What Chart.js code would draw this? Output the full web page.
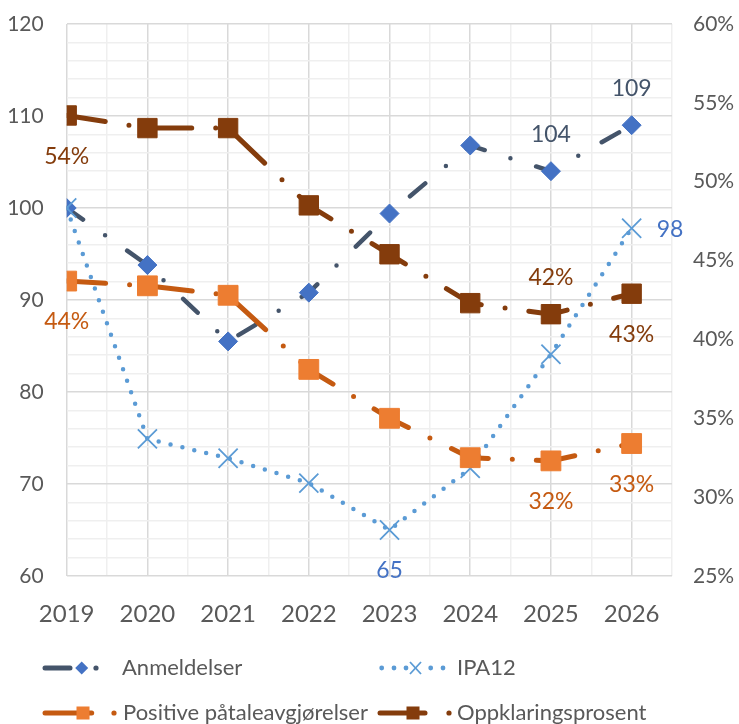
<!DOCTYPE html>
<html><head><meta charset="utf-8">
<script src="https://cdn.jsdelivr.net/npm/chart.js@4.4.1/dist/chart.umd.min.js"></script>
<style>
html,body{margin:0;padding:0;background:#fff;}
#wrap{position:relative;width:739px;height:724px;overflow:hidden;}
#c{position:absolute;left:0;top:0;}
.lt{position:absolute;font-family:Lato,sans-serif;font-size:22px;line-height:22px;color:#595959;white-space:nowrap;}
#icons{position:absolute;left:0;top:640px;}
</style></head><body>
<div id="wrap">
<canvas id="c" width="739" height="724"></canvas>
<svg id="icons" width="739" height="84"></svg>
<div class="lt" style="left:122px;top:656px">Anmeldelser</div>
<div class="lt" style="left:457px;top:656px">IPA12</div>
<div class="lt" style="left:123px;top:701px">Positive påtaleavgjørelser</div>
<div class="lt" style="left:457px;top:701px">Oppklaringsprosent</div>
</div>
<script>
// ---- data ----
const years = [2019, 2020, 2021, 2022, 2023, 2024, 2025, 2026];
const anmeldelser = [100, 93.8, 85.5, 90.8, 99.4, 106.8, 104, 109];
const ipa12 = [100, 74.9, 72.8, 70.1, 65, 71.7, 84.1, 97.8];
const positive = [43.7, 43.4, 42.8, 38.1, 35.0, 32.5, 32.3, 33.4];
const oppklaring = [54.2, 53.4, 53.4, 48.5, 45.4, 42.3, 41.6, 42.9];
const seriesNames = ['Anmeldelser', 'IPA12', 'Positive påtaleavgjørelser', 'Oppklaringsprosent'];
const leftTickLabels = [60, 70, 80, 90, 100, 110, 120];
const rightTickLabels = ['25%', '30%', '35%', '40%', '45%', '50%', '55%', '60%'];
// which points carry a value label: [seriesIndex, pointIndex, placement]
const labelledPoints = [
  [0, 6, 'above'], [0, 7, 'above'],
  [1, 4, 'below'], [1, 7, 'right'],
  [2, 0, 'below'], [2, 6, 'below'], [2, 7, 'below'],
  [3, 0, 'below'], [3, 6, 'above'], [3, 7, 'below']
];

const FONT = 'Lato, sans-serif';
const toPts = arr => arr.map((v, i) => ({x: years[i], y: v}));

const labelColors = ['#44546A', '#4472C4', '#C55A11', '#843C0C'];

const labelPlugin = {
  id: 'valueLabels',
  afterDatasetsDraw(chart) {
    const ctx = chart.ctx;
    ctx.save();
    ctx.font = '23px ' + FONT;
    ctx.textBaseline = 'middle';
    labelledPoints.forEach(([s, i, place]) => {
      const ds = chart.data.datasets[s];
      const el = chart.getDatasetMeta(s).data[i];
      const v = ds.data[i].y;
      const txt = Math.round(v) + (ds.yAxisID === 'y2' ? '%' : '');
      ctx.fillStyle = labelColors[s];
      let x = el.x, y = el.y;
      if (place === 'above') { ctx.textAlign = 'center'; y -= 37; }
      else if (place === 'below') { ctx.textAlign = 'center'; y += 41; }
      else { ctx.textAlign = 'left'; x += 25; y += 1; }
      ctx.fillText(txt, x, y);
    });
    ctx.restore();
  }
};

const noVPad = s => { s.paddingTop = 0; s.paddingBottom = 0; };

new Chart(document.getElementById('c'), {
  type: 'line',
  data: {
    datasets: [
      {
        label: seriesNames[0], data: toPts(anmeldelser), yAxisID: 'y', order: 3,
        borderColor: '#44546A', borderWidth: 4.5, borderDash: [20, 27, 0, 27], borderCapStyle: 'round',
        pointStyle: 'rectRot', pointRadius: 9.5, pointBackgroundColor: '#4472C4', pointBorderColor: '#4472C4', pointBorderWidth: 1,
        fill: false, tension: 0
      },
      {
        label: seriesNames[1], data: toPts(ipa12), yAxisID: 'y', order: 2,
        borderColor: '#5B9BD5', borderWidth: 4.5, borderDash: [0, 12.2], borderCapStyle: 'round',
        pointStyle: 'crossRot', pointRadius: 13.5, pointBorderColor: '#5B9BD5', pointBackgroundColor: '#5B9BD5', pointBorderWidth: 1.8,
        fill: false, tension: 0
      },
      {
        label: seriesNames[2], data: toPts(positive), yAxisID: 'y2', order: 1,
        borderColor: '#C55A11', borderWidth: 5, borderDash: [39, 24, 0, 24], borderCapStyle: 'round',
        pointStyle: 'rect', pointRadius: 14, pointBackgroundColor: '#ED7D31', pointBorderColor: '#ED7D31', pointBorderWidth: 1,
        fill: false, tension: 0
      },
      {
        label: seriesNames[3], data: toPts(oppklaring), yAxisID: 'y2', order: 0,
        borderColor: '#843C0C', borderWidth: 5, borderDash: [39, 24, 0, 24], borderCapStyle: 'round',
        pointStyle: 'rect', pointRadius: 13.7, pointBackgroundColor: '#843C0C', pointBorderColor: '#843C0C', pointBorderWidth: 1,
        fill: false, tension: 0
      }
    ]
  },
  options: {
    responsive: false, animation: false, devicePixelRatio: 1,
    layout: {padding: {left: 0, right: 0, top: 24, bottom: 98}},
    plugins: {legend: {display: false}, tooltip: {enabled: false}},
    scales: {
      x: {
        type: 'linear', min: years[0], max: years[years.length - 1] + 0.5, offset: false,
        afterFit: s => { s.height = 50; s.paddingLeft = 0; s.paddingRight = 0; },
        grid: {drawTicks: false, lineWidth: 1.5,
          color: c => Number.isInteger(c.tick.value) ? '#d9d9d9' : '#efefef'},
        border: {display: false},
        ticks: {stepSize: 0.5, autoSkip: false, maxRotation: 0, padding: 24, color: '#595959',
          font: {family: FONT, size: 24},
          callback: v => years.includes(v) ? String(v) : ''}
      },
      y: {
        position: 'left', min: leftTickLabels[0], max: leftTickLabels[leftTickLabels.length - 1],
        afterFit: s => { s.width = 66.7; noVPad(s); },
        grid: {drawTicks: false, lineWidth: 1.5,
          color: c => (c.tick.value % 10 === 0) ? '#d9d9d9' : '#efefef'},
        border: {display: false},
        ticks: {stepSize: 2, autoSkip: false, padding: 23, color: '#595959', font: {family: FONT, size: 21},
          callback: v => leftTickLabels.includes(v) ? String(v) : ''}
      },
      y2: {
        position: 'right', min: 25, max: 60,
        afterFit: s => { s.width = 67; noVPad(s); },
        grid: {display: false, drawTicks: false},
        border: {display: false},
        ticks: {stepSize: 5, padding: 21, color: '#595959', font: {family: FONT, size: 21},
          callback: v => rightTickLabels.find(t => parseFloat(t) === v) || ''}
      }
    }
  },
  plugins: [labelPlugin]
});

// ---- legend icons (styles mirror the datasets) ----
const svg = document.getElementById('icons');
const NS = 'http://www.w3.org/2000/svg';
function add(tag, attrs) { const e = document.createElementNS(NS, tag); for (const k in attrs) e.setAttribute(k, attrs[k]); svg.appendChild(e); }
const r1 = 28, r2 = 73; // row centres relative to svg top (640)
// Anmeldelser
add('line', {x1: 45, y1: r1, x2: 70, y2: r1, stroke: '#44546A', 'stroke-width': 5, 'stroke-linecap': 'round'});
add('polygon', {points: `${81.7-6.5},${r1} ${81.7},${r1-6.5} ${81.7+6.5},${r1} ${81.7},${r1+6.5}`, fill: '#4472C4'});
add('circle', {cx: 96, cy: r1, r: 2.6, fill: '#44546A'});
// IPA12
[381.7, 394, 406, 430.7, 443].forEach(x => add('circle', {cx: x, cy: r1, r: 2.4, fill: '#5B9BD5'}));
add('line', {x1: 410, y1: r1-6, x2: 421, y2: r1+6, stroke: '#5B9BD5', 'stroke-width': 1.8});
add('line', {x1: 410, y1: r1+6, x2: 421, y2: r1-6, stroke: '#5B9BD5', 'stroke-width': 1.8});
// Positive
add('line', {x1: 45, y1: r2, x2: 91.7, y2: r2, stroke: '#C55A11', 'stroke-width': 5, 'stroke-linecap': 'round'});
add('rect', {x: 76.5, y: r2-6.5, width: 13, height: 13, fill: '#ED7D31'});
add('circle', {cx: 114, cy: r2, r: 2.6, fill: '#C55A11'});
// Oppklaring
add('line', {x1: 380, y1: r2, x2: 425, y2: r2, stroke: '#843C0C', 'stroke-width': 5, 'stroke-linecap': 'round'});
add('rect', {x: 406.5, y: r2-6.5, width: 13, height: 13, fill: '#843C0C'});
add('circle', {cx: 449, cy: r2, r: 2.6, fill: '#843C0C'});
</script>
</body></html>
